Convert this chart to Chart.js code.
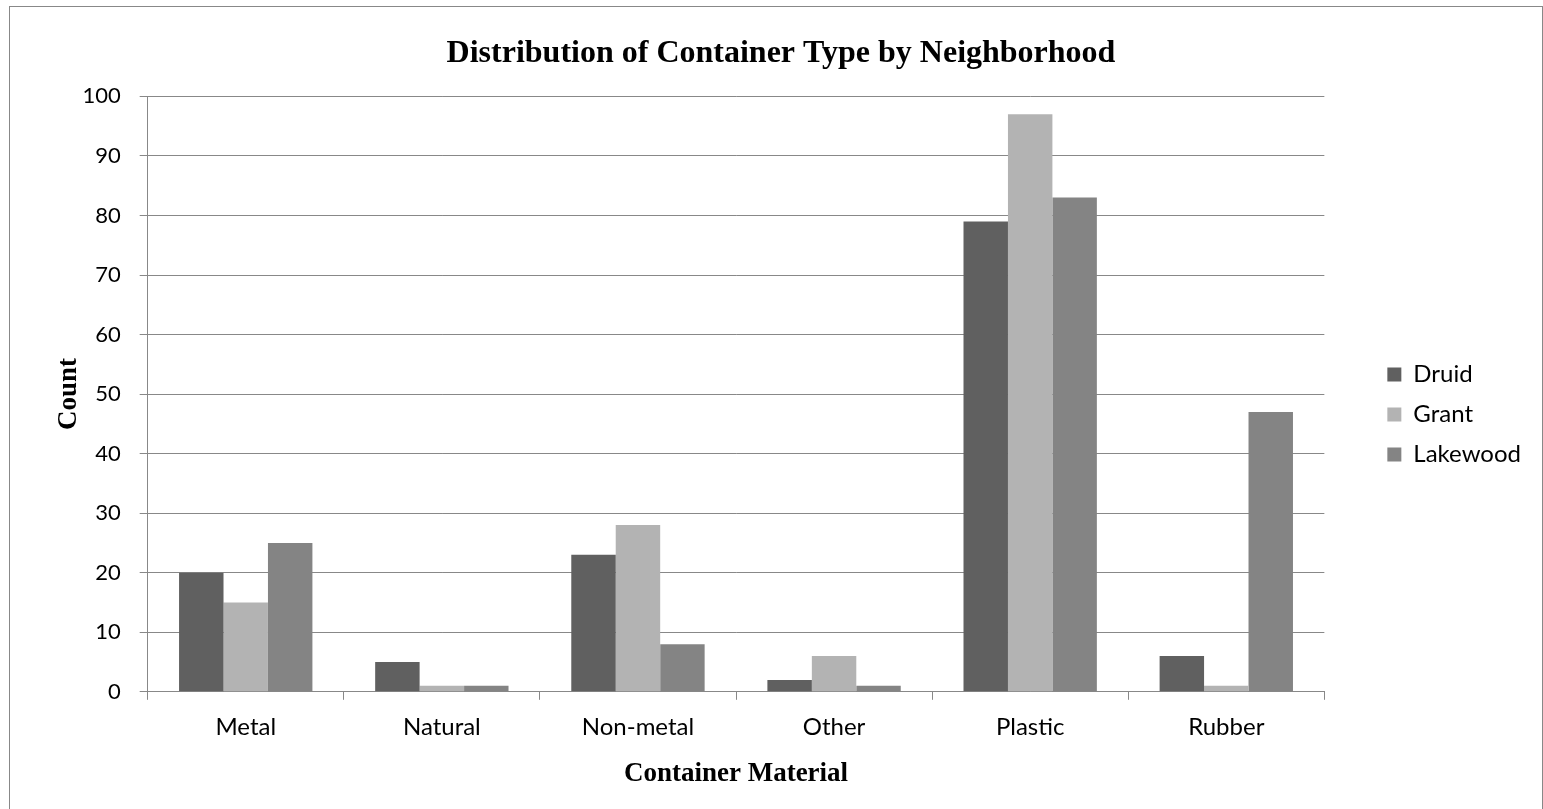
<!DOCTYPE html>
<html>
<head>
<meta charset="utf-8">
<script src="https://cdn.jsdelivr.net/npm/chart.js@4.4.0/dist/chart.umd.min.js"></script>
<style>
  html, body { margin: 0; padding: 0; background: #fff; overflow: hidden; }
  #frame {
    position: absolute; left: 9px; top: 6px;
    width: 1534px; height: 812px;
    border: 1px solid #888; box-sizing: border-box;
  }
  #wrap { position: absolute; left: 0; top: 0; width: 1532px; height: 810px; }
</style>
</head>
<body>
<div id="frame"><div id="wrap"><canvas id="myChart"></canvas></div></div>
<script>
const categories = ["Metal", "Natural", "Non-metal", "Other", "Plastic", "Rubber"];
const druid = [20, 5, 23, 2, 79, 6];
const grant = [15, 1, 28, 6, 97, 1];
const lakewood = [25, 1, 8, 1, 83, 47];
const seriesNames = ["Druid", "Grant", "Lakewood"];
const yTicks = [0, 10, 20, 30, 40, 50, 60, 70, 80, 90, 100];

const ctx = document.getElementById("myChart");
const sans = "Lato, 'Open Sans', sans-serif";
const serif = "'Liberation Serif', 'DejaVu Serif', serif";

// legend box gets wider (room between plot and legend), then items are pushed right
const legendExtra = 29;
const legendShiftX = 47;
const legendShiftY = 10;
const legendGapPlugin = {
  id: "legendGap",
  beforeUpdate(chart) {
    const legend = chart.legend;
    if (!legend || legend._gapPatched) return;
    const fit = legend.fit;
    legend.fit = function () {
      fit.call(this);
      this.width += legendExtra;
    };
    legend._gapPatched = true;
  },
  afterLayout(chart) {
    const legend = chart.legend;
    if (!legend) return;
    legend.left += legendShiftX;
    legend.right += legendShiftX;
    legend.top += legendShiftY;
    legend.bottom += legendShiftY;
  },
};

new Chart(ctx, {
  type: "bar",
  data: {
    labels: categories,
    datasets: [
      { label: seriesNames[0], data: druid, backgroundColor: "#606060" },
      { label: seriesNames[1], data: grant, backgroundColor: "#b3b3b3" },
      { label: seriesNames[2], data: lakewood, backgroundColor: "#848484" },
    ],
  },
  plugins: [legendGapPlugin],
  options: {
    responsive: true,
    maintainAspectRatio: false,
    animation: false,
    datasets: {
      bar: { categoryPercentage: 0.68, barPercentage: 1.0 },
    },
    layout: { padding: { left: 39, right: 29, top: 8, bottom: 23 } },
    plugins: {
      title: {
        display: true,
        text: "Distribution of Container Type by Neighborhood",
        color: "#000",
        font: { family: serif, size: 32, weight: "bold" },
        padding: { top: 20, bottom: 23 },
      },
      legend: {
        position: "right",
        labels: {
          color: "#000",
          font: { family: sans, size: 24 },
          boxWidth: 14,
          boxHeight: 14,
          padding: 16,
        },
      },
      tooltip: { enabled: false },
    },
    scales: {
      x: {
        grid: {
          offset: true,
          drawOnChartArea: false,
          color: "#888",
          tickLength: 8,
        },
        border: { color: "#888" },
        ticks: { color: "#000", font: { family: sans, size: 24 }, padding: 13 },
        title: {
          display: true,
          text: "Container Material",
          color: "#000",
          font: { family: serif, size: 27, weight: "bold" },
          padding: { top: 3, bottom: 4 },
        },
      },
      y: {
        min: 0,
        max: 100,
        afterBuildTicks: (axis) => {
          axis.ticks = yTicks.map((v) => ({ value: v }));
        },
        grid: { color: "#888", tickLength: 8 },
        border: { color: "#888" },
        ticks: { color: "#000", font: { family: sans, size: 22 }, padding: 19 },
        title: {
          display: true,
          text: "Count",
          color: "#000",
          font: { family: serif, size: 27, weight: "bold" },
          padding: { top: 4, bottom: -22 },
        },
      },
    },
  },
});
</script>
</body>
</html>
